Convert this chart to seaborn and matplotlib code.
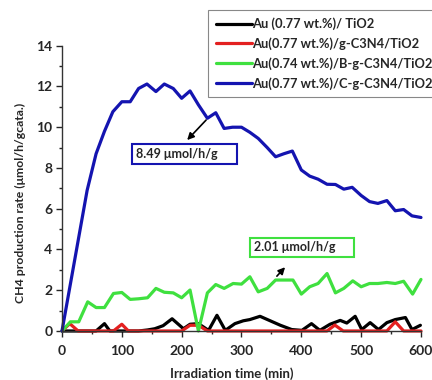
import pandas as pd
import matplotlib
matplotlib.use('Agg')
import matplotlib.pyplot as plt
import seaborn as sns
import numpy as np

# Au/TiO2
x_tio2 = [0, 14, 28, 43, 57, 71, 80, 100, 114, 128, 143, 155, 169, 184, 203, 214, 228, 245, 259, 273,
          289, 303, 314, 331, 348, 365, 384, 401, 417, 431, 448, 465, 476, 490, 501, 515, 529, 543, 557,
          574, 585, 599]
y_tio2 = [0, 0, 0, 0, 0, 0.36, 0, 0, 0, 0, 0.05, 0.11, 0.26, 0.6, 0.11, 0.33, 0.36, 0.03, 0.77, 0.03,
          0.36, 0.5, 0.56, 0.72, 0.5, 0.28, 0.07, 0.03, 0.36, 0.03, 0.33, 0.52, 0.39, 0.72, 0.07, 0.41,
          0.07, 0.41, 0.56, 0.66, 0.07, 0.28]

# Au/g-C3N4/TiO2
x_g = [0, 13, 27, 86, 100, 111, 200, 214, 228, 243, 443, 456, 470, 543, 557, 571, 600]
y_g = [0, 0.36, 0, 0, 0.33, 0, 0, 0.28, 0.28, 0, 0, 0.29, 0, 0, 0.45, 0, 0]

# Au/B-g-C3N4/TiO2
x_b = [0, 14, 28, 43, 57, 71, 86, 100, 114, 128, 143, 157, 171, 186, 200, 214, 228, 243, 257, 271, 286,
       300, 314, 328, 343, 357, 371, 386, 400, 414, 428, 443, 457, 471, 486, 500, 514, 528, 543, 557, 571,
       586, 600]
y_b = [0, 0.45, 0.45, 1.43, 1.15, 1.15, 1.84, 1.89, 1.55, 1.58, 1.63, 2.09, 1.9, 1.87, 1.63, 2.01, 0,
       1.87, 2.28, 2.09, 2.33, 2.3, 2.66, 1.92, 2.09, 2.5, 2.5, 2.5, 1.81, 2.17, 2.33, 2.82, 1.87, 2.09,
       2.46, 2.17, 2.33, 2.33, 2.38, 2.33, 2.44, 1.81, 2.53]

# Au/C-g-C3N4/TiO2
x_c = [0, 14, 28, 42, 57, 71, 85, 100, 114, 128, 142, 157, 171, 186, 200, 214, 228, 243, 257, 271, 285,
       300, 314, 328, 343, 357, 371, 385, 400, 414, 428, 443, 457, 471, 485, 500, 514, 528, 543, 557, 571,
       585, 600]
y_c = [0, 2.3, 4.6, 6.9, 8.7, 9.8, 10.76, 11.25, 11.25, 11.9, 12.12, 11.75, 12.12, 11.9, 11.42, 11.78,
       11.1, 10.44, 10.71, 9.94, 10.0, 10.0, 9.75, 9.45, 9.0, 8.55, 8.7, 8.83, 7.9, 7.6, 7.45, 7.2, 7.19,
       6.96, 7.05, 6.65, 6.35, 6.26, 6.4, 5.9, 5.96, 5.65, 5.57]

labels = ['Au (0.77 wt.%)/ TiO2', 'Au(0.77 wt.%)/g-C3N4/TiO2',
          'Au(0.74 wt.%)/B-g-C3N4/TiO2', 'Au(0.77 wt.%)/C-g-C3N4/TiO2']
colors = ['#000000', '#e32020', '#3fe03f', '#1414b0']

sns.set_style('ticks')
plt.rcParams['font.family'] = ['Lato', 'DejaVu Sans']

fig = plt.figure(figsize=(4.32, 3.80), dpi=100)
ax = fig.add_axes([0.1435, 0.129, 0.831, 0.7507])

series = [(x_tio2, y_tio2), (x_g, y_g), (x_b, y_b), (x_c, y_c)]
for (xs, ys), lab, col in zip(series, labels, colors):
    sns.lineplot(x=xs, y=ys, color=col, lw=2.3, label=lab, ax=ax, clip_on=False)

ax.set_xlim(0, 600)
ax.set_ylim(0, 14)
ax.set_xticks(np.arange(0, 601, 100))
ax.set_xticks(np.arange(0, 601, 50), minor=True)
ax.set_yticks(np.arange(0, 15, 2))
ax.set_yticks(np.arange(0, 15, 1), minor=True)
ax.tick_params(axis='both', which='major', length=4, width=1, labelsize=10, pad=3)
ax.tick_params(axis='x', which='major', pad=6)
ax.tick_params(axis='both', which='minor', length=2.5, width=1)
for lbl in ax.get_xticklabels() + ax.get_yticklabels():
    lbl.set_fontweight('bold')
sns.despine(ax=ax)
for s in ['left', 'bottom']:
    ax.spines[s].set_linewidth(1)
    ax.spines[s].set_color('#333333')

ax.set_xlabel('Irradiation time (min)', fontsize=9.5, fontweight='bold')
ax.set_ylabel('CH4 production rate (μmol/h/gcata.)', fontsize=8.8, fontweight='bold')
ax.xaxis.set_label_coords(0.474, -0.128)
ax.yaxis.set_label_coords(-0.10, 0.449)

ax.legend_.remove()
handles, _ = ax.get_legend_handles_labels()
leg = fig.legend(handles, labels, loc='upper left', bbox_to_anchor=(0.481, 0.974),
                 frameon=True, fancybox=False, edgecolor='#888888', framealpha=1,
                 prop={'weight': 'bold', 'size': 9.3}, handlelength=2.8, handletextpad=0.0,
                 labelspacing=0.55, borderpad=0.6, borderaxespad=0)
leg.get_frame().set_linewidth(0.8)

ax.text(124, 8.68, '8.49 μmol/h/g     ', ha='left', va='center', fontsize=9, fontweight='bold',
        bbox=dict(boxstyle='square,pad=0.3', fc='white', ec=colors[3], lw=1.5))
ax.annotate('', xy=(206, 9.27), xytext=(244, 10.45),
            arrowprops=dict(arrowstyle='-|>', color='black', lw=1.2, mutation_scale=10))

ax.text(321, 4.1, '2.01 μmol/h/g     ', ha='left', va='center', fontsize=9, fontweight='bold',
        bbox=dict(boxstyle='square,pad=0.3', fc='white', ec=colors[2], lw=1.5))
ax.annotate('', xy=(376, 3.23), xytext=(356, 2.59),
            arrowprops=dict(arrowstyle='-|>', color='black', lw=1.2, mutation_scale=10))

fig.savefig('out.png', dpi=100)
